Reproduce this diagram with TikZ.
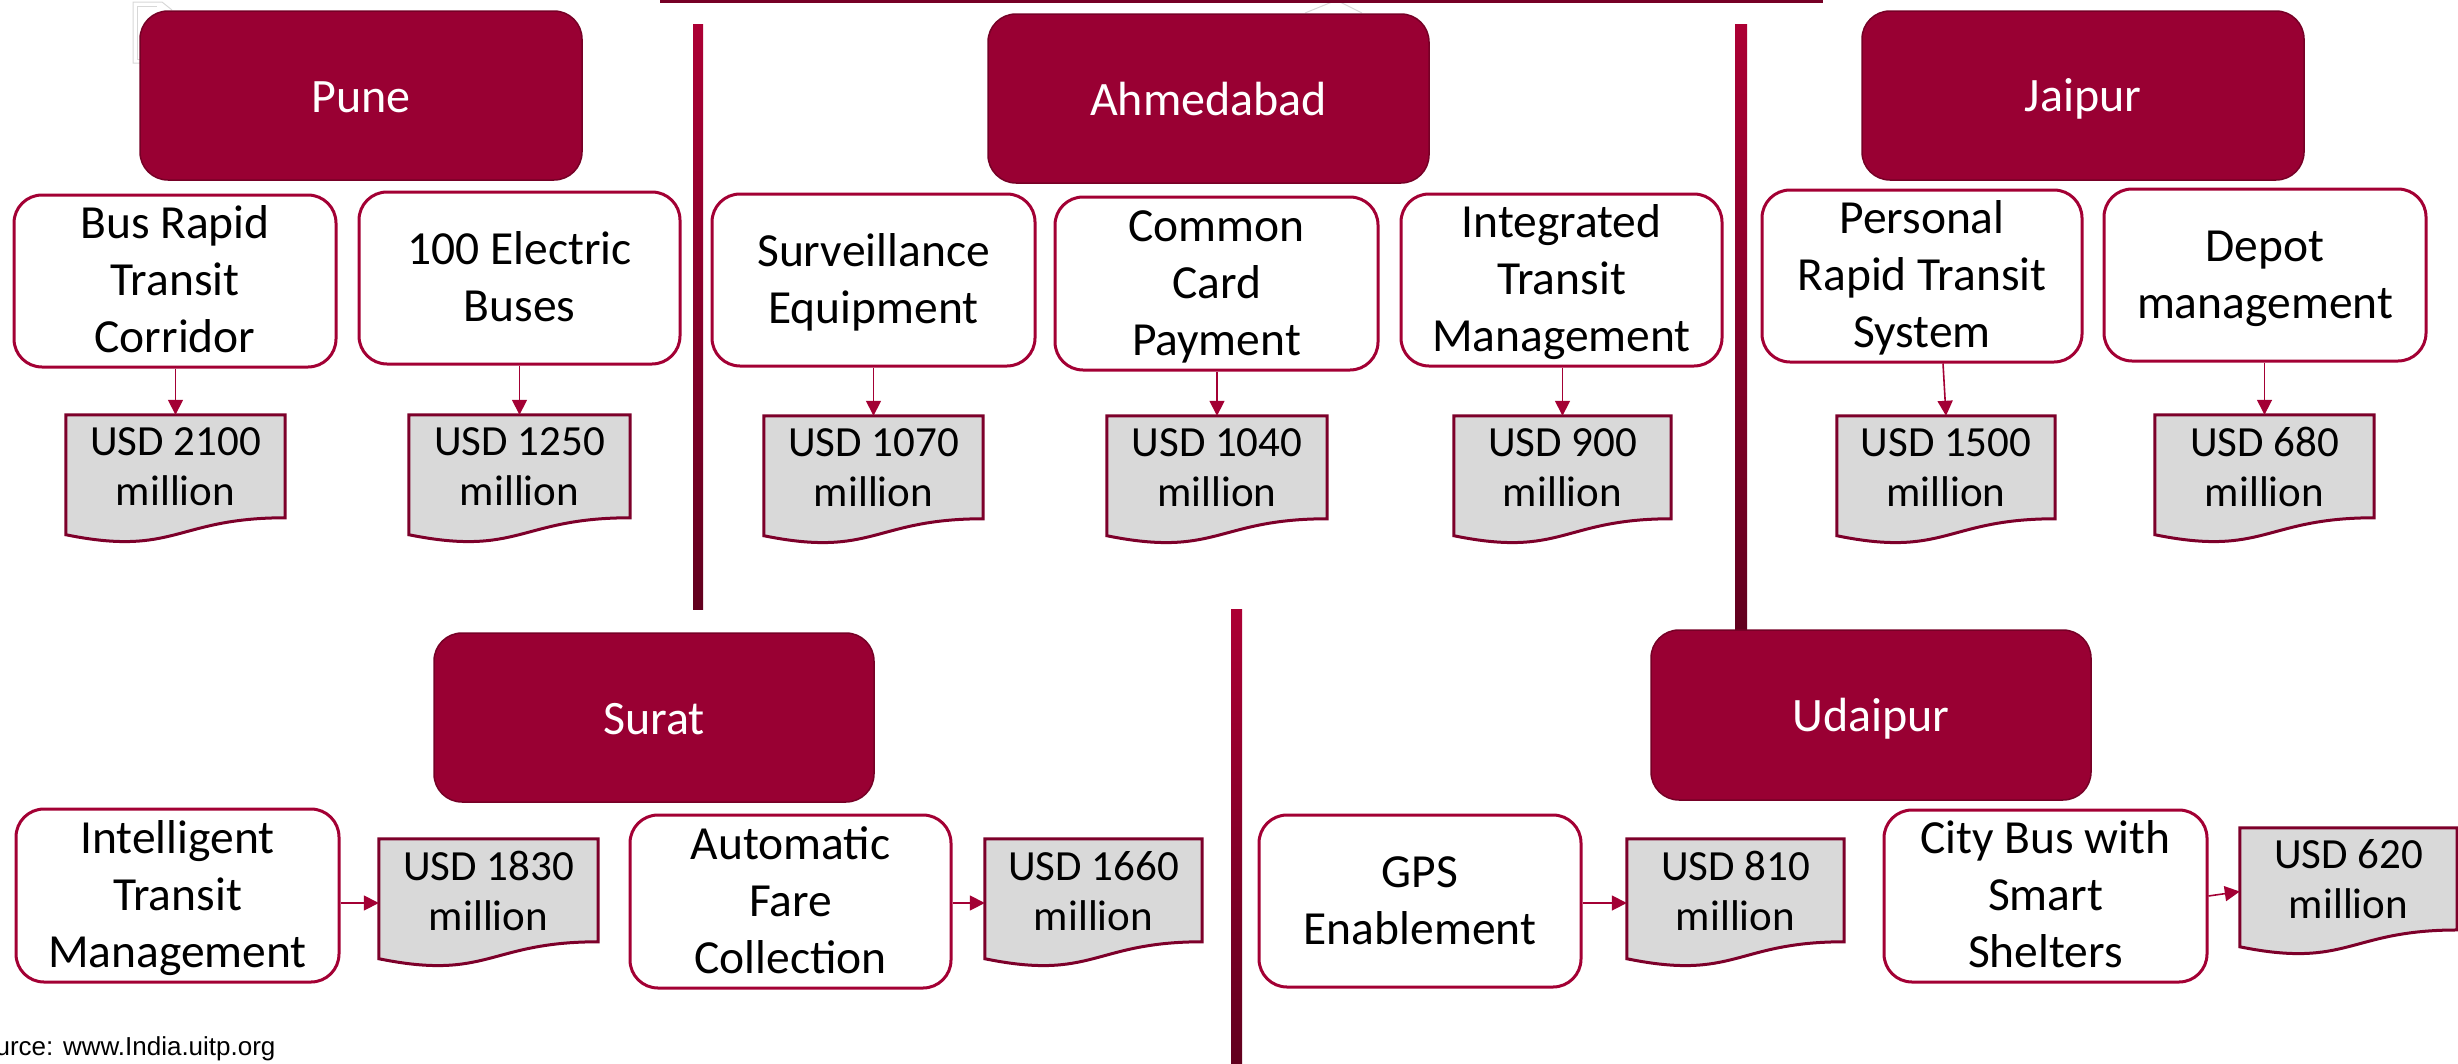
\documentclass[tikz,border=0pt]{standalone}
\usepackage{fontspec}
\setmainfont{Carlito}
\newfontfamily\arialf{Liberation Sans}
\usetikzlibrary{arrows.meta,backgrounds,calc}
\definecolor{crim}{RGB}{153,0,51}
\definecolor{crimdk}{RGB}{118,0,38}
\definecolor{wbord}{RGB}{163,0,52}
\definecolor{dbord}{RGB}{125,0,42}
\definecolor{docgray}{RGB}{217,217,217}
\definecolor{linetop}{RGB}{172,0,52}
\definecolor{linebot}{RGB}{98,0,30}
\definecolor{faint}{RGB}{215,215,215}
\newcommand\ws{\rule[-9pt]{0pt}{47pt}}
\newcommand\ds{\rule[-6pt]{0pt}{46pt}}
\newcommand\ms{\rule[-25pt]{0pt}{52pt}}
\newcommand\bigtxt{\fontsize{47.5}{57}\selectfont\lineskiplimit-1000pt\relax}
\newcommand\citytxt{\fontsize{48}{57}\selectfont\lineskiplimit-1000pt\relax}
\newcommand\doctxt{\fontsize{43}{50}\selectfont\lineskiplimit-1000pt\relax}
\newcommand\docshape[1]{%
  \path[fill=docgray, draw=dbord, line width=3pt, line join=miter]
  (#1.north west) -- (#1.north east) -- ($(#1.north east)!0.802!(#1.south east)$)
  .. controls ($(#1.north)!0.802!(#1.south)$) and ($(#1.north)!1.1075!(#1.south)$)
  .. ($(#1.north west)!0.934!(#1.south west)$) -- cycle;}
\tikzset{
  citybox/.style={rectangle, rounded corners=28pt, fill=crim, draw=crimdk, line width=1.5pt,
    text=white, font=\citytxt, inner sep=0pt,
    minimum width=441pt, minimum height=169pt},
  itembox/.style={rectangle, rounded corners=28pt, fill=white, draw=wbord, line width=3pt,
    align=center, font=\bigtxt, inner sep=0pt,
    minimum width=322pt, minimum height=172pt},
  costdoc/.style={rectangle, inner sep=0pt, align=center, font=\doctxt,
    minimum width=219pt, minimum height=128pt},
  arr/.style={draw=wbord, line width=1.6pt, -{Triangle[length=15pt,width=15pt]}},
  vbar/.style={top color=linetop, bottom color=linebot}
}
\begin{document}
\begin{tikzpicture}[x=1pt,y=-1pt]
\useasboundingbox (0,0) rectangle (2458,1063);
% faint artifacts
\draw[faint, line width=1pt] (141,63) -- (133,63) -- (133,2) -- (162,2) -- (172,10);
\draw[faint, line width=1pt] (141,59) -- (137,59) -- (137,6) -- (157,6);
\draw[faint, line width=1pt] (1305,13) -- (1332,2) -- (1340,2) -- (1362,13);
% top line
\fill[crimdk] (660,-3) rectangle (1823,2.5);
% vertical separators
\shade[vbar] (693,24) rectangle (703,609);
\shade[vbar] (1735,24) rectangle (1747,629);
\shade[vbar] (1231,609) rectangle (1242,1063);
% city boxes
\node[citybox, minimum width=442pt] (pune) at (361,95.5) {\ds Pune};
\node[citybox] (ahmd) at (1208.5,98.5) {\ds Ahmedabad};
\node[citybox, minimum width=442pt] (jaip) at (2083,95.5) {\ds Jaipur};
\node[citybox, minimum width=440pt] (sura) at (654,717.5) {\ds Surat};
\node[citybox, minimum width=440pt, minimum height=170pt] (udai) at (1871,715) {\ds Udaipur};
% item boxes
\node[itembox] (brt) at (175,281) {\ws Bus Rapid\\\ws Transit\\\ws Corridor};
\node[itembox, minimum width=321pt] (ebus) at (519.5,278) {\ws 100 Electric\\\ws Buses};
\node[itembox, minimum width=323pt] (surv) at (873.5,280) {\ws Surveillance\\\ws Equipment};
\node[itembox, minimum width=323pt, minimum height=173pt] (ccp) at (1216.5,283.5) {\ws Common\\\ws Card\\\ws Payment};
\node[itembox, minimum width=321pt] (itm) at (1561.5,280) {\ws Integrated\\\ws Transit\\\ws Management};
\node[itembox, minimum width=320pt] (prt) at (1922,276) {\ws Personal\\\ws Rapid Transit\\\ws System};
\node[itembox] (depot) at (2265,275) {\ws Depot\\\ws management};
\node[itembox, minimum width=323pt, minimum height=173pt] (itms) at (177.5,895.5) {\ws Intelligent\\\ws Transit\\\ws Management};
\node[itembox, minimum width=321pt, minimum height=173pt] (afc) at (790.5,901.5) {\ws Automatic\\\ws Fare\\\ws Collection};
\node[itembox] (gps) at (1420,901) {\ws GPS\\\ws Enablement};
\node[itembox, minimum width=323pt] (cbus) at (2045.5,896) {\ws City Bus with\\\ws Smart\\\ws Shelters};
% cost documents
\node[costdoc] (c2100) at (175.5,479) {\ms USD 2100\\\ms million};
\node[costdoc, minimum width=221pt] (c1250) at (519.5,479) {\ms USD 1250\\\ms million};
\node[costdoc] (c1070) at (873.5,480) {\ms USD 1070\\\ms million};
\node[costdoc, minimum width=220pt] (c1040) at (1217,480) {\ms USD 1040\\\ms million};
\node[costdoc, minimum width=217pt] (c900) at (1562.5,480) {\ms USD 900\\\ms million};
\node[costdoc, minimum width=218pt] (c1500) at (1946,480) {\ms USD 1500\\\ms million};
\node[costdoc] (c680) at (2264.5,479) {\ms USD 680\\\ms million};
\node[costdoc] (c1830) at (488.5,903) {\ms USD 1830\\\ms million};
\node[costdoc, minimum width=217pt] (c1660) at (1093.5,903) {\ms USD 1660\\\ms million};
\node[costdoc, minimum width=217pt] (c810) at (1735.5,903) {\ms USD 810\\\ms million};
\node[costdoc, minimum width=217pt, minimum height=127pt] (c620) at (2348.5,891.5) {\ms USD 620\\\ms million};
\begin{pgfonlayer}{background}
\foreach \d in {c2100,c1250,c1070,c1040,c900,c1500,c680,c1830,c1660,c810,c620} {\docshape{\d}}
\end{pgfonlayer}
% connectors
\draw[arr] (c2100.north |- brt.south) -- (c2100.north);
\draw[arr] (c1250.north |- ebus.south) -- (c1250.north);
\draw[arr] (c1070.north |- surv.south) -- (c1070.north);
\draw[arr] (c1040.north |- ccp.south) -- (c1040.north);
\draw[arr] (c900.north |- itm.south) -- (c900.north);
\draw[arr] ($(prt.south)+(21,0)$) -- (c1500.north);
\draw[arr] (c680.north |- depot.south) -- (c680.north);
\draw[arr] (c1830.west -| itms.east) -- (c1830.west);
\draw[arr] (c1660.west -| afc.east) -- (c1660.west);
\draw[arr] (c810.west -| gps.east) -- (c810.west);
\draw[arr] (cbus.east) -- (c620.west);
% source
\node[anchor=base east, font=\arialf\fontsize{26}{30}\selectfont] (src) at (279,1055) {Source: www.India.uitp.org};
\end{tikzpicture}
\end{document}
